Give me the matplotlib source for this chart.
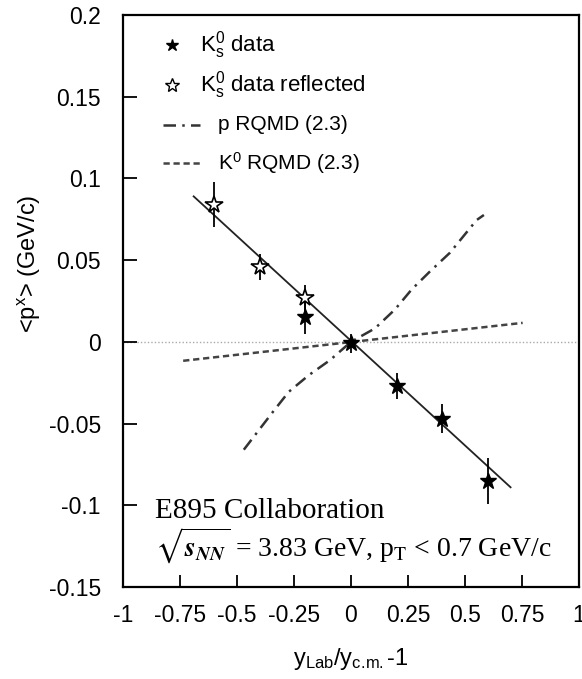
import matplotlib
matplotlib.use("Agg")
import matplotlib.pyplot as plt

# K0s directed flow <px> vs normalised rapidity
data_x = [-0.2, 0.0, 0.2, 0.4, 0.6]
data_y = [0.015, -0.001, -0.027, -0.047, -0.085]
data_err = [0.010, 0.006, 0.008, 0.009, 0.014]

refl_x = [-0.6, -0.4, -0.2]
refl_y = [0.084, 0.046, 0.027]
refl_err = [0.014, 0.008, 0.008]

# linear fit through the data
fit_x = [-0.69, 0.70]
fit_y = [0.089, -0.089]

# RQMD (2.3) model curves
p_rqmd_x = [-0.47, -0.346, -0.273, -0.185, -0.092, 0.0, 0.105, 0.193, 0.266, 0.346, 0.434, 0.551, 0.583]
p_rqmd_y = [-0.066, -0.0435, -0.0306, -0.0204, -0.0112, 0.0, 0.0082, 0.0198, 0.032, 0.043, 0.0545, 0.0745, 0.0776]
k_rqmd_x = [-0.736, 0.753]
k_rqmd_y = [-0.0116, 0.0116]

x_ticks = [-1, -0.75, -0.5, -0.25, 0, 0.25, 0.5, 0.75, 1]
x_labels = ["-1", "-0.75", "-0.5", "-0.25", "0", "0.25", "0.5", "0.75", "1"]
y_ticks = [-0.15, -0.1, -0.05, 0, 0.05, 0.1, 0.15, 0.2]
y_labels = ["-0.15", "-0.1", "-0.05", "0", "0.05", "0.1", "0.15", "0.2"]

plt.rcParams['font.family'] = ['Liberation Sans', 'DejaVu Sans']
plt.rcParams['mathtext.fontset'] = 'custom'
plt.rcParams['mathtext.rm'] = 'Liberation Sans'
plt.rcParams['mathtext.it'] = 'Liberation Sans:italic'
plt.rcParams['mathtext.bf'] = 'Liberation Sans:bold'

fig = plt.figure(figsize=(5.82, 6.79), dpi=100)
ax = fig.add_axes([0.2113, 0.1355, 0.7835, 0.8425])

ax.axhline(0, color='#aaaaaa', lw=1.0, ls=(0, (1, 1.5)), zorder=1)

ax.plot(k_rqmd_x, k_rqmd_y, color='#444444', lw=1.8, ls=(0, (2.5, 1.5)), zorder=2)
ax.plot(p_rqmd_x, p_rqmd_y, color='#333333', lw=1.8, ls=(0, (5, 2.5, 1, 2.5)), zorder=2)
ax.plot(fit_x, fit_y, color='#222222', lw=1.3, zorder=3)

ax.errorbar(data_x, data_y, yerr=data_err, fmt='*', color='black', ms=12,
            mfc='black', mec='black', elinewidth=1.3, capsize=0, zorder=4)
ax.errorbar(refl_x, refl_y, yerr=refl_err, fmt='*', color='black', ms=13,
            mfc='white', mec='black', mew=1.2, elinewidth=1.3, capsize=0, zorder=4)

# legend drawn by hand to follow the original layout
ax.plot([0.107], [0.948], '*', color='black', ms=9, transform=ax.transAxes)
ax.text(0.169, 0.948, r'K$_\mathrm{s}^\mathrm{0}$ data', fontsize=16,
        va='center', ha='left', transform=ax.transAxes)
ax.plot([0.107], [0.878], '*', color='black', ms=10, mfc='white', mew=1.0,
        transform=ax.transAxes)
ax.text(0.169, 0.878, r'K$_\mathrm{s}^\mathrm{0}$ data reflected', fontsize=16,
        va='center', ha='left', transform=ax.transAxes)
ax.plot([0.088, 0.169], [0.808, 0.808], color='#333333', lw=1.8,
        ls=(0, (5, 2.5, 1, 2.5)), transform=ax.transAxes)
ax.text(0.208, 0.808, 'p RQMD (2.3)', fontsize=15, va='center', ha='left',
        transform=ax.transAxes)
ax.plot([0.088, 0.169], [0.741, 0.741], color='#444444', lw=1.8,
        ls=(0, (2.5, 1.5)), transform=ax.transAxes)
ax.text(0.208, 0.741, r'K$^\mathrm{0}$ RQMD (2.3)', fontsize=15, va='center',
        ha='left', transform=ax.transAxes)

ax.text(0.07, 0.12, 'E895 Collaboration', fontsize=21, family='Liberation Serif',
        va='baseline', ha='left', transform=ax.transAxes)
ax.text(0.07, 0.052, r'$\sqrt{\mathbfit{s}_{\mathbfit{NN}}}$ = 3.83 GeV, p$_\mathrm{T}$ < 0.7 GeV/c',
        fontsize=20, family='Liberation Serif', math_fontfamily='stix',
        va='baseline', ha='left', transform=ax.transAxes)

ax.set_xlim(-1, 1)
ax.set_ylim(-0.15, 0.2)
ax.set_xticks(x_ticks)
ax.set_xticklabels(x_labels)
ax.set_yticks(y_ticks)
ax.set_yticklabels(y_labels)
ax.tick_params(axis='x', direction='in', length=9, width=1.3, labelsize=16.5, pad=12)
ax.tick_params(axis='y', direction='in', length=10, width=1.3, labelsize=16.5, pad=16)
for s in ax.spines.values():
    s.set_linewidth(1.6)

ax.set_xlabel(r'y$_\mathrm{Lab}$/y$_{\mathrm{c.\!m.}}$-1', fontsize=17, labelpad=14)
ax.set_ylabel(r'<p$^\mathrm{x}$> (GeV/c)', fontsize=17)
ax.yaxis.set_label_coords(-0.175, 0.565)

fig.savefig('out.png', dpi=100)
